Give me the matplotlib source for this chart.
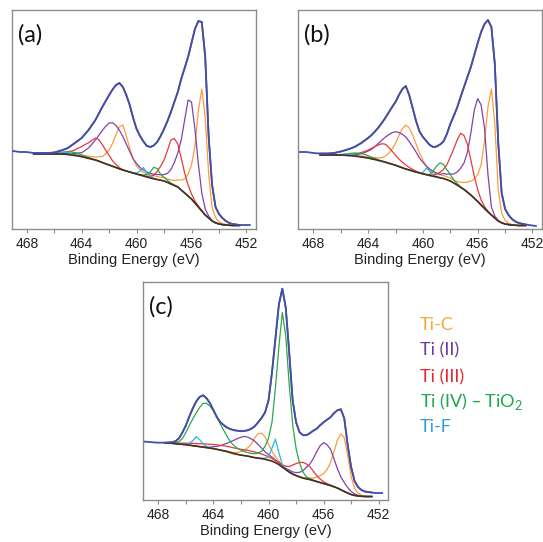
import matplotlib
matplotlib.use("Agg")
import matplotlib.pyplot as plt
import numpy as np

# Ti 2p XPS spectra, intensity in arbitrary units
# binding energy grid of the measured spectra, 469 eV down to 451.75 eV
energy = [469.0, 468.75, 468.5, 468.25,
          468.0, 467.75, 467.5, 467.25,
          467.0, 466.75, 466.5, 466.25,
          466.0, 465.75, 465.5, 465.25,
          465.0, 464.75, 464.5, 464.25,
          464.0, 463.75, 463.5, 463.25,
          463.0, 462.75, 462.5, 462.25,
          462.0, 461.75, 461.5, 461.25,
          461.0, 460.75, 460.5, 460.25,
          460.0, 459.75, 459.5, 459.25,
          459.0, 458.75, 458.5, 458.25,
          458.0, 457.75, 457.5, 457.25,
          457.0, 456.75, 456.5, 456.25,
          456.0, 455.75, 455.5, 455.25,
          455.0, 454.75, 454.5, 454.25,
          454.0, 453.75, 453.5, 453.25,
          453.0, 452.75, 452.5, 452.25,
          452.0, 451.75]
FIT = slice(6, 67)  # fitted region 467.5 - 452.5 eV

# ---------------- (a) ----------------
raw_a = [78, 77.5, 77, 77,
         77, 76.5, 76, 76,
         76, 76, 76, 76.2,
         76.5, 77.5, 78.5, 79.7,
         81, 83.5, 86, 88.5,
         91, 95, 99, 104,
         109, 115.5, 122, 128,
         134, 139.5, 144, 146,
         142, 134, 124, 111,
         100, 93, 87.5, 83,
         82, 83.5, 87, 93,
         100, 108, 117, 127,
         137, 150, 161, 172,
         186, 200, 208, 207,
         172, 92, 44, 22,
         15, 11, 8, 6,
         5, 4.5, 4, 4,
         4, 4]
bg_a = [75, 75, 75, 75,
        75, 75, 75, 75,
        75, 74.8, 74.5, 74,
        73.5, 73, 72.3, 71.5,
        70.7, 69.8, 69, 67.8,
        66.5, 65.2, 64, 62.7,
        61.5, 60.2, 59, 58,
        57, 56, 55, 54,
        53, 52, 51, 50.2,
        49.5, 48.8, 48, 46.6,
        45, 43.5, 42, 39,
        36, 33, 30, 26,
        22, 18, 14, 11,
        8, 6.2, 5, 4.4,
        4, 3.7, 3.5, 3.5,
        3.5]
# component peaks, height above the background
tic_a = [0, 0, 0, 0,
         0, 0, 0, 0.2,
         0.3, 0.4, 0.5, 0.7,
         1, 1.2, 1.5, 1.8,
         2, 2.5, 3, 4.5,
         6, 10, 15, 23,
         33, 42, 45, 35,
         24, 14, 8, 5,
         3.5, 3, 3, 3,
         3, 3, 3.5, 3.5,
         4, 5, 7, 10,
         14, 22, 34, 57,
         96, 122, 98, 44,
         14, 5, 2, 1,
         0.5, 0, 0, 0,
         0]
ti2_a = [0, 0, 0, 0,
         0, 0, 0, 0.3,
         0.5, 0.8, 1, 1.5,
         2, 3, 4, 7,
         10.5, 15, 20, 26,
         32, 37.5, 42, 43.5,
         42, 38.5, 33.5, 27,
         20.5, 14, 10.5, 7.5,
         6, 5, 4.5, 4.5,
         5, 5.5, 6.5, 9,
         14.5, 23, 34, 50,
         73, 96, 97, 74,
         43, 18, 6, 2,
         0.5, 0, 0, 0,
         0, 0, 0, 0,
         0]
ti3_a = [0, 0, 0, 0.2,
         0.3, 0.4, 0.5, 0.8,
         1.2, 2, 2.8, 4,
         5.5, 8, 10, 13,
         15.5, 19, 22, 21.5,
         18, 13.5, 9.5, 5.5,
         3, 1, 0.3, 0,
         0, 0, 0, 0,
         0.3, 0.8, 1.5, 3.5,
         8, 14, 21, 32,
         44, 47, 43, 32,
         20, 11, 5, 2,
         1, 0.5, 0, 0,
         0, 0, 0, 0,
         0, 0, 0, 0,
         0]
ti4_a = [0, 0, 0, 0,
         0.2, 0.4, 0.7, 1,
         1.5, 2, 2.5, 3,
         3, 2.5, 1.8, 1.2,
         0.8, 0.5, 0.3, 0.2,
         0.1, 0, 0, 0,
         0, 0, 0, 0,
         0, 0, 0, 0.3,
         1, 2.5, 6, 11.5,
         11, 6, 3.5, 2,
         1, 0.5, 0.2, 0,
         0, 0, 0, 0,
         0, 0, 0, 0,
         0, 0, 0, 0,
         0, 0, 0, 0,
         0]
tif_a = [0, 0, 0, 0,
         0, 0.2, 0.5, 1,
         1.8, 2, 1.8, 1.2,
         0.6, 0.3, 0.1, 0,
         0, 0, 0, 0,
         0, 0, 0, 0,
         0, 0, 0, 0,
         0, 0.3, 1, 4,
         8.5, 4, 1.5, 0.5,
         0, 0, 0, 0,
         0, 0, 0, 0,
         0, 0, 0, 0,
         0, 0, 0, 0,
         0, 0, 0, 0,
         0, 0, 0, 0,
         0]

# ---------------- (b) ----------------
raw_b = [77, 77, 77, 76.5,
         76, 75.7, 75.5, 75.5,
         75.5, 75.7, 76, 76.7,
         77.5, 78.5, 79.5, 80.7,
         82, 84, 86, 88.5,
         91, 94, 97.5, 101.5,
         106, 111, 116.5, 122,
         127, 134, 140, 143,
         134, 121, 108, 97.5,
         92, 88, 84, 82,
         82.5, 84.5, 87.5, 95,
         105, 113, 121.5, 132,
         142, 152, 162, 174,
         186, 197, 205, 209,
         202, 165, 86, 36,
         20, 14, 10, 7.5,
         6, 5.2, 4.5, 4,
         3.5, 3]
bg_b = [74, 74, 74, 74,
        74, 74, 74, 73.8,
        73.5, 73.2, 73, 72.5,
        72, 71.5, 71, 70.2,
        69.5, 68.6, 67.8, 66.8,
        65.8, 64.8, 63.8, 62.5,
        61.2, 60, 59, 58,
        57, 56, 55.2, 54.3,
        53.5, 52.7, 52, 51.2,
        50.5, 49.3, 48, 46,
        44, 41.7, 39.5, 36.8,
        34, 30.8, 27.5, 24,
        20.5, 17.2, 14, 11,
        8, 6.2, 5, 4.4,
        4, 3.7, 3.5, 3.5,
        3.5]
tic_b = [0, 0, 0, 0,
         0, 0, 0, 0.2,
         0.3, 0.4, 0.5, 0.7,
         0.8, 0.9, 1, 1.5,
         2, 2.5, 3.5, 6,
         10, 15, 22, 31,
         39, 44, 42, 36,
         28, 20, 14, 8.5,
         5, 3.5, 3, 3,
         3, 3, 3, 3,
         3.5, 5, 7, 10,
         14, 19, 27, 40,
         68, 105, 126, 94,
         31, 9.5, 3.5, 1.5,
         0.5, 0, 0, 0,
         0]
ti2_b = [0, 0, 0, 0,
         0, 0.2, 0.4, 0.6,
         0.8, 1.1, 1.5, 2,
         3.5, 5, 7, 9.5,
         13, 17, 21, 25,
         28.5, 31.5, 33.5, 34,
         33.5, 32, 28.5, 24.5,
         20, 15, 11.5, 8.5,
         6.5, 5, 4, 3.5,
         5, 5.5, 7, 9,
         13, 19, 26.5, 40,
         62, 88, 103, 100,
         80, 37, 8, 2,
         0.5, 0, 0, 0,
         0, 0, 0, 0,
         0]
ti3_b = [0, 0, 0, 0,
         0.1, 0.2, 0.3, 0.6,
         1, 1.5, 2.2, 3,
         4.5, 6, 8, 10.5,
         13, 15.5, 17.5, 18,
         16, 13, 10, 7.5,
         5.5, 4, 2.5, 1.5,
         0.8, 0.4, 0.2, 0,
         0.5, 1.5, 3, 5.5,
         9, 15, 24, 34,
         45, 54, 54, 48,
         35, 22, 12, 5,
         2, 0.5, 0, 0,
         0, 0, 0, 0,
         0, 0, 0, 0,
         0]
ti4_b = [0, 0, 0, 0,
         0.1, 0.3, 0.5, 1,
         1.7, 2.5, 3, 3.3,
         3.3, 3, 2.3, 1.6,
         1, 0.5, 0.2, 0.1,
         0, 0, 0, 0,
         0, 0, 0, 0,
         0, 0, 0, 0.3,
         1, 5.5, 11, 15,
         14, 10, 6.5, 3,
         1.5, 0.5, 0.2, 0,
         0, 0, 0, 0,
         0, 0, 0, 0,
         0, 0, 0, 0,
         0, 0, 0, 0,
         0]
tif_b = [0, 0, 0, 0,
         0, 0.2, 0.4, 0.8,
         1.2, 1.2, 1, 0.6,
         0.3, 0.1, 0, 0,
         0, 0, 0, 0,
         0, 0, 0, 0,
         0, 0, 0, 0,
         0, 0.2, 1.5, 6.5,
         4, 1.5, 0.5, 0,
         0, 0, 0, 0,
         0, 0, 0, 0,
         0, 0, 0, 0,
         0, 0, 0, 0,
         0, 0, 0, 0,
         0, 0, 0, 0,
         0]

# ---------------- (c) ----------------
raw_c = [58.5, 58.3, 58, 57.7,
         57.5, 57.5, 57.5, 57.7,
         58, 59, 62, 68,
         75, 84, 92, 99,
         103.5, 105, 102, 97,
         90, 83, 78, 75,
         72.5, 71, 70, 69.5,
         69, 69.3, 70, 71.5,
         74, 78, 82.5, 88,
         100, 128, 162, 196,
         212, 193, 148, 100,
         78, 68, 65, 65,
         67, 69.5, 71.5, 75,
         78, 80.5, 83, 87,
         90, 91, 82, 55,
         33, 19, 13, 10,
         8.5, 8, 7.5, 7,
         7, 7]
bg_c = [57, 57, 56.8, 56.5,
        56, 55.8, 55.5, 55,
        54.5, 54, 53.5, 53,
        52.5, 52, 51.5, 50.8,
        50, 49.3, 48.5, 47.5,
        46.5, 45.7, 45, 44.5,
        44, 43.2, 42.5, 42,
        41.5, 40.8, 40, 39,
        37.5, 35.5, 33, 30.5,
        28, 26, 24.5, 23.2,
        22, 21.2, 20.5, 19.5,
        18.5, 17.5, 16.5, 15.5,
        14.5, 13.3, 12, 10.3,
        8.5, 7, 5.5, 4.6,
        4, 3.7, 3.5, 3.5,
        3.5]
tic_c = [0, 0, 0, 0,
         0, 0, 0, 0,
         0, 0, 0, 0,
         0, 0, 0, 0,
         0.3, 0.5, 0.5, 0.7,
         1, 2, 3.5, 5.5,
         8.5, 13, 20, 24.5,
         25.5, 22.5, 16, 10,
         6, 3.5, 2, 1,
         0.5, 0.3, 0.3, 0.4,
         0.5, 0.8, 1.5, 2.5,
         4.5, 7, 10, 15,
         23, 35, 48, 56,
         54, 38, 18, 7,
         3, 1, 0.5, 0,
         0]
ti2_c = [0, 0, 0, 0,
         0, 0, 0, 0,
         0, 0, 0.2, 0.3,
         0.5, 1, 2, 3,
         4.5, 6.5, 8.5, 11,
         13.5, 16, 18, 19.3,
         19, 18, 16.5, 13.5,
         10.5, 7.5, 5.5, 4,
         2.7, 2, 1.5, 1.2,
         2, 2.2, 3, 4.5,
         7.5, 11.5, 15.5, 22,
         30, 37, 41, 40,
         36.5, 28, 19.5, 13,
         9, 5.5, 3, 1.5,
         0.7, 0.3, 0, 0,
         0]
ti3_c = [0.3, 0.4, 0.5, 0.7,
         1, 1.2, 1.5, 1.9,
         2.3, 2.6, 3, 3.3,
         3.6, 3.9, 4.2, 4.5,
         4.8, 5, 5.3, 5.5,
         5.7, 5.8, 5.8, 5.8,
         5.8, 5.7, 5.6, 5.2,
         4.6, 4, 3.3, 2.6,
         2, 2, 2.2, 3.5,
         5.5, 9, 12, 14.5,
         15.7, 15, 13, 9.5,
         6, 3.5, 1.8, 1,
         0.5, 0.2, 0, 0,
         0, 0, 0, 0,
         0, 0, 0, 0,
         0]
ti4_c = [0, 0, 0, 1,
         2.5, 6, 12.5, 20,
         27, 33.5, 39.5, 44,
         44.5, 42, 38, 32.5,
         26, 20.5, 15, 10.5,
         8, 6, 5, 4,
         3.5, 3.5, 4, 5,
         7.5, 13, 22, 39,
         75, 118, 155, 134,
         88, 50, 27, 14,
         6, 2, 1, 0.5,
         0.2, 0, 0, 0,
         0, 0, 0, 0,
         0, 0, 0, 0,
         0, 0, 0, 0,
         0]
tif_c = [0, 0, 0, 0,
         0, 0.2, 0.5, 2,
         5, 9.5, 7, 3,
         1.3, 0.5, 0.2, 0,
         0, 0, 0, 0,
         0, 0, 0, 0,
         0, 0, 0, 0,
         0.3, 1, 3.5, 13,
         23.5, 12, 2.5, 0.5,
         0, 0, 0, 0,
         0, 0, 0, 0,
         0, 0, 0, 0,
         0, 0, 0, 0,
         0, 0, 0, 0,
         0, 0, 0, 0,
         0]

species = ["Ti-C", "Ti (II)", "Ti (III)", "Ti (IV) – TiO$_\\mathregular{2}$", "Ti-F"]
line_colors = ["#FF9A3C", "#7E44A8", "#E8383E", "#2BA84A", "#2AB6E8"]
text_colors = ["#F6A833", "#6B3A9C", "#E8282E", "#1FA64A", "#2E9FD8"]

RAW_COL = "#3D50B2"
ENV_COL = "#8A4A2A"
BG_COL = "#4E2A18"
AX_COL = "#8C8C8C"


def draw_panel(ax, raw, bg, comps, tag):
    e = np.array(energy)
    ef = e[FIT]
    bg = np.array(bg, dtype=float)
    for off, c in zip(comps, line_colors):
        ax.plot(ef, bg + np.array(off, dtype=float), color=c, lw=0.9, zorder=2)
    # Shirley background on top of the component baselines
    ax.plot(ef, bg, color=BG_COL, lw=1.2, zorder=3)
    raw = np.array(raw, dtype=float)
    ax.plot(ef, raw[FIT], color=ENV_COL, lw=1.2, zorder=4)
    ax.plot(e, raw, color=RAW_COL, lw=1.3, zorder=5)

    ax.set_xlim(469.1, 451.3)
    ax.set_ylim(0, 219)
    ax.set_yticks([])
    ax.set_xticks([468, 464, 460, 456, 452])
    ax.set_xticks([466, 462, 458, 454], minor=True)
    ax.tick_params(axis="x", which="both", direction="out", length=3,
                   width=0.8, color=AX_COL, labelsize=10, pad=2.5,
                   labelcolor="#222222")
    for lab in ax.get_xticklabels():
        lab.set_fontfamily("Liberation Sans")
    for sp in ax.spines.values():
        sp.set_color(AX_COL)
        sp.set_linewidth(1.0)
    ax.set_xlabel("Binding Energy (eV)", fontsize=10.5, family="Liberation Sans",
                  color="#222222", labelpad=2)
    ax.text(0.025, 0.885, tag, transform=ax.transAxes, fontsize=17,
            family="Lato", va="center", ha="left", color="#111111")


fig = plt.figure(figsize=(5.43, 5.42), dpi=100)
ax_a = fig.add_axes([0.0215, 0.5775, 0.45, 0.404])
ax_b = fig.add_axes([0.5493, 0.5775, 0.449, 0.404])
ax_c = fig.add_axes([0.2639, 0.0775, 0.4512, 0.4028])

draw_panel(ax_a, raw_a, bg_a, [tic_a, ti2_a, ti3_a, ti4_a, tif_a], "(a)")
draw_panel(ax_b, raw_b, bg_b, [tic_b, ti2_b, ti3_b, ti4_b, tif_b], "(b)")
draw_panel(ax_c, raw_c, bg_c, [tic_c, ti2_c, ti3_c, ti4_c, tif_c], "(c)")

label_y = [0.4004, 0.3542, 0.3044, 0.2601, 0.2122]
for name, col, y in zip(species, text_colors, label_y):
    fig.text(0.7735, y, name, color=col, fontsize=13, family="Lato",
             va="center", ha="left")

fig.savefig("out.png", dpi=100)
